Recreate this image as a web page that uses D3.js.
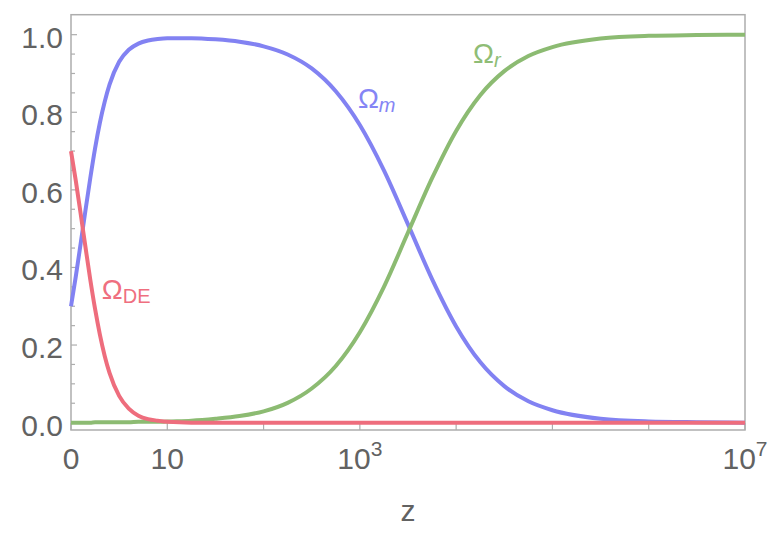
<!DOCTYPE html>
<html lang="en">
<head>
    <meta charset="UTF-8">
    <title>Density parameters</title>
    <script src="https://cdn.jsdelivr.net/npm/d3@7"></script>
    <style>
        body {
            margin: 0;
            background: #ffffff;
        }

        svg {
            display: block;
        }

        text {
            font-family: "Liberation Sans", Arial, Helvetica, sans-serif;
        }
    </style>
</head>
<body>
<svg class="svg" width="772" height="534"></svg>

<script>

    // x = log10(1+z)
    var logZ = [0, 0.05, 0.1, 0.15, 0.2, 0.25, 0.3, 0.35, 0.4, 0.5, 0.6, 0.7, 0.8, 0.9, 1.0,
        1.25, 1.5, 1.75, 2, 2.25, 2.5, 2.75, 3, 3.25, 3.5, 3.75, 4, 4.25, 4.5, 4.75, 5,
        5.5, 6, 6.5, 7];
    var omegaM = [0.300, 0.377, 0.461, 0.547, 0.630, 0.707, 0.773, 0.827, 0.871, 0.930, 0.961, 0.977, 0.985, 0.989, 0.991,
        0.991, 0.988, 0.982, 0.970, 0.949, 0.913, 0.854, 0.767, 0.650, 0.511, 0.370, 0.248, 0.156, 0.094, 0.055, 0.032,
        0.010, 0.003, 0.001, 0.000];
    var omegaR = [0.000, 0.000, 0.000, 0.000, 0.000, 0.001, 0.001, 0.001, 0.001, 0.001, 0.001, 0.002, 0.002, 0.002, 0.003,
        0.005, 0.010, 0.017, 0.029, 0.051, 0.088, 0.146, 0.233, 0.350, 0.490, 0.630, 0.752, 0.844, 0.906, 0.945, 0.968,
        0.990, 0.997, 0.999, 1.000];
    var omegaDE = [0.700, 0.623, 0.539, 0.453, 0.369, 0.293, 0.227, 0.172, 0.128, 0.069, 0.036, 0.018, 0.009, 0.005, 0.002,
        0.000, 0.000, 0.000, 0.000, 0.000, 0.000, 0.000, 0.000, 0.000, 0.000, 0.000, 0.000, 0.000, 0.000, 0.000, 0.000,
        0.000, 0.000, 0.000, 0.000];

    var xTicks = [0, 1, 2, 3, 4, 5, 6, 7];
    var xTickLabels = [
        {at: 0, base: '0', sup: ''},
        {at: 1, base: '10', sup: ''},
        {at: 3, base: '10', sup: '3'},
        {at: 7, base: '10', sup: '7'}
    ];
    var yMajor = [0, 0.2, 0.4, 0.6, 0.8, 1.0];
    var yMinor = d3.range(0, 1.0001, 0.05);

    var series = [
        {name: 'm', values: omegaM, color: '#8282f2'},
        {name: 'r', values: omegaR, color: '#8cbb72'},
        {name: 'DE', values: omegaDE, color: '#ee6d7d'}
    ];
    var labels = [
        {sub: 'm', x: 2.98, y: 0.811, italic: true, color: '#8585f5'},
        {sub: 'r', x: 4.175, y: 0.927, italic: true, color: '#8fbd76'},
        {sub: 'DE', x: 0.32, y: 0.318, italic: false, color: '#ef6f7f'}
    ];

    var svg = d3.select('svg');
    var plotLeft = 71, plotRight = 745, plotTop = 14.7, plotBottom = 430;

    var x = d3.scaleLinear().domain([0, 7]).range([plotLeft, plotRight]);
    var y = d3.scaleLinear().domain([-0.019, 1.0515]).range([plotBottom, plotTop]);

    var axisColor = '#adadad';
    var textColor = '#626262';

    // frame
    svg.append('rect')
        .attr('x', plotLeft)
        .attr('y', plotTop)
        .attr('width', plotRight - plotLeft)
        .attr('height', plotBottom - plotTop)
        .style('fill', 'none')
        .style('stroke', axisColor)
        .style('stroke-width', 1.5);

    // y ticks (inside)
    svg.selectAll('.ymin')
        .data(yMinor)
        .enter()
        .append('line')
        .attr('x1', plotLeft)
        .attr('x2', function (d) {
            var major = Math.abs(d * 5 - Math.round(d * 5)) < 1e-6;
            return plotLeft + (major ? 6 : 4);
        })
        .attr('y1', function (d) { return y(d); })
        .attr('y2', function (d) { return y(d); })
        .style('stroke', axisColor)
        .style('stroke-width', 1.2);

    svg.selectAll('.ylab')
        .data(yMajor)
        .enter()
        .append('text')
        .attr('x', 63)
        .attr('y', function (d) { return y(d) + 13; })
        .attr('text-anchor', 'end')
        .style('font-size', '30px')
        .style('fill', textColor)
        .text(function (d) { return d.toFixed(1); });

    // x ticks (inside)
    svg.selectAll('.xtick')
        .data(xTicks)
        .enter()
        .append('line')
        .attr('x1', function (d) { return x(d); })
        .attr('x2', function (d) { return x(d); })
        .attr('y1', plotBottom)
        .attr('y2', plotBottom - 7)
        .style('stroke', axisColor)
        .style('stroke-width', 1.2);

    var xl = svg.selectAll('.xlab')
        .data(xTickLabels)
        .enter()
        .append('text')
        .attr('x', function (d) { return x(d.at); })
        .attr('y', 469)
        .attr('text-anchor', 'middle')
        .style('font-size', '30px')
        .style('fill', textColor);
    xl.append('tspan').text(function (d) { return d.base; });
    xl.append('tspan')
        .attr('dy', -13)
        .style('font-size', '21px')
        .text(function (d) { return d.sup; });

    svg.append('text')
        .attr('x', (plotLeft + plotRight) / 2)
        .attr('y', 521)
        .attr('text-anchor', 'middle')
        .style('font-size', '30px')
        .style('fill', textColor)
        .text('z');

    // curves
    var line = d3.line()
        .curve(d3.curveMonotoneX)
        .x(function (d, i) { return x(logZ[i]); })
        .y(function (d) { return y(d); });

    svg.selectAll('.curve')
        .data(series)
        .enter()
        .append('path')
        .attr('d', function (d) { return line(d.values); })
        .style('fill', 'none')
        .style('stroke', function (d) { return d.color; })
        .style('stroke-width', 4);

    // curve labels
    var lab = svg.selectAll('.clab')
        .data(labels)
        .enter()
        .append('text')
        .attr('x', function (d) { return x(d.x); })
        .attr('y', function (d) { return y(d.y); })
        .style('font-size', '28px')
        .style('fill', function (d) { return d.color; });
    lab.append('tspan').text('Ω');
    lab.append('tspan')
        .attr('dy', 4)
        .style('font-size', '20px')
        .style('font-style', function (d) { return d.italic ? 'italic' : 'normal'; })
        .text(function (d) { return d.sub; });

</script>

</body>
</html>
